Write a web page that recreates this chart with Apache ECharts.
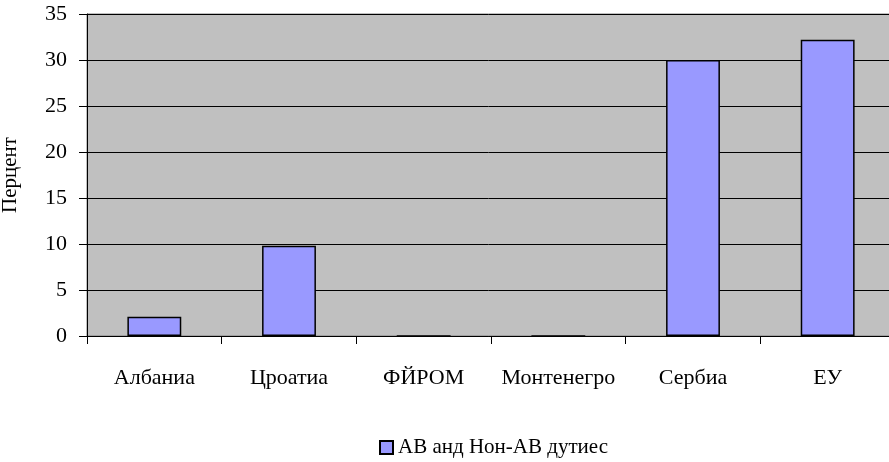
<!DOCTYPE html>
<html>
<head>
<meta charset="utf-8">
<script src="https://cdn.jsdelivr.net/npm/echarts@6/dist/echarts.min.js"></script>
<style>
  html, body { margin: 0; padding: 0; background: #fff; }
  #chart { width: 889px; height: 462px; }
</style>
</head>
<body>
<div id="chart"></div>
<script>
// 数据
const categories = ['Албаниа', 'Цроатиа', 'ФЙРОМ', 'Монтенегро', 'Сербиа', 'ЕУ']
const duties = [2.1, 9.8, 0, 0, 30, 32.2]
const seriesName = 'АВ анд Нон-АВ дутиес'
const yName = 'Перцент'

;(function () {
  let myChart = echarts.init(document.getElementById('chart'))
  const font = '"Liberation Serif", "Times New Roman", serif'
  let option = {
    animation: false,
    textStyle: { fontFamily: font },
    grid: {
      left: 87,
      top: 14,
      width: 808,
      height: 322,
      outerBoundsMode: 'none',
      containLabel: false,
      show: true,
      backgroundColor: '#c0c0c0',
      borderColor: '#808080',
      borderWidth: 1
    },
    legend: {
      left: 374,
      top: 432,
      icon: 'rect',
      itemWidth: 13,
      itemHeight: 13,
      itemGap: 6,
      textStyle: { fontFamily: font, fontSize: 21, color: '#000' },
      data: [seriesName]
    },
    xAxis: {
      type: 'category',
      data: categories,
      axisLine: { lineStyle: { color: '#000', width: 1 } },
      axisTick: { show: true, interval: 0, length: 8, lineStyle: { color: '#000' } },
      axisLabel: { interval: 0, margin: 31, fontSize: 22, color: '#000', fontFamily: font },
      splitLine: { show: false }
    },
    yAxis: {
      type: 'value',
      min: 0,
      max: 35,
      interval: 5,
      name: yName,
      nameLocation: 'middle',
      nameRotate: 90,
      nameGap: 66,
      nameTextStyle: { fontSize: 21, color: '#000', fontFamily: font },
      axisLine: { show: true, lineStyle: { color: '#000', width: 1 } },
      axisTick: { show: true, length: 8, lineStyle: { color: '#000' } },
      axisLabel: { margin: 20, fontSize: 22, color: '#000', fontFamily: font, padding: [3, 0, 0, 0] },
      splitLine: { lineStyle: { color: '#000', width: 1 } }
    },
    series: [
      {
        name: seriesName,
        type: 'bar',
        barWidth: '40%',
        data: duties,
        itemStyle: {
          color: '#9999ff',
          borderColor: '#000',
          borderWidth: 1.5
        }
      }
    ]
  }
  myChart.setOption(option)
})();
</script>
</body>
</html>
